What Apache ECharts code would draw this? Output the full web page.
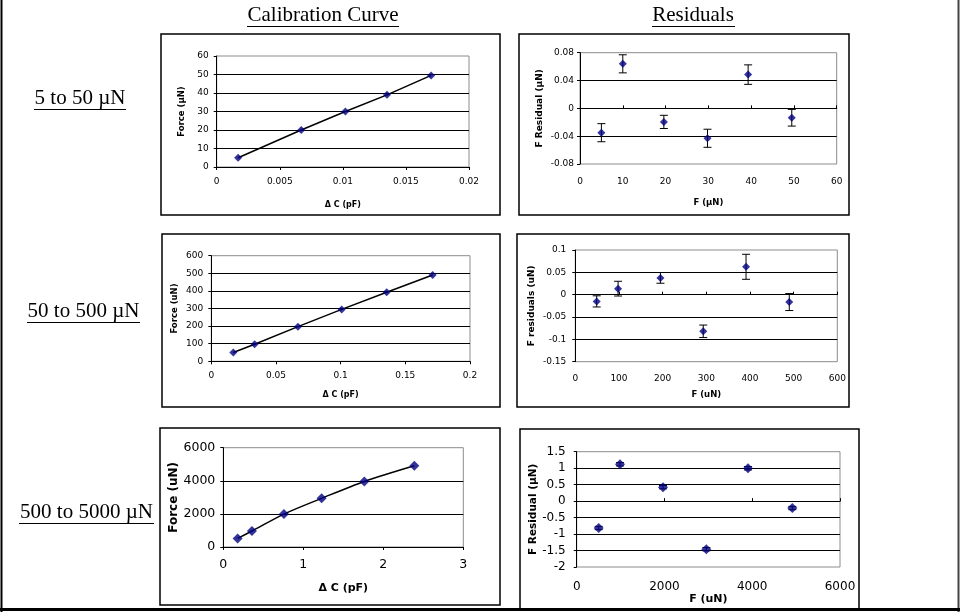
<!DOCTYPE html>
<html><head><meta charset="utf-8">
<script src="https://cdn.jsdelivr.net/npm/echarts@6/dist/echarts.min.js"></script>
<style>html,body{margin:0;padding:0;background:#fff}#c{width:960px;height:612px}</style>
</head><body><div id="c"></div>
<script>
// ---- data ----
const cal1X = [0.0017, 0.0067, 0.0102, 0.0135, 0.0170];
const cal1Y = [5, 20, 30, 39, 49.5];
const res1X = [5, 10, 19.6, 29.8, 39.3, 49.5];
const res1Y = [-0.035, 0.064, -0.0195, -0.043, 0.0485, -0.0135];
const res1E = [0.013, 0.013, 0.0095, 0.013, 0.014, 0.012];

const cal2X = [0.017, 0.0335, 0.067, 0.1008, 0.1356, 0.1711];
const cal2Y = [50, 97, 197, 295, 392, 490];
const res2X = [49, 98, 195, 293, 391, 490];
const res2Y = [-0.015, 0.0135, 0.0376, -0.082, 0.0624, -0.0165];
const res2E = [0.0125, 0.0165, 0.012, 0.014, 0.028, 0.019];

const cal3X = [0.179, 0.358, 0.758, 1.229, 1.7625, 2.3875];
const cal3Y = [520, 966, 1990, 2940, 3960, 4910];
const res3X = [501, 987, 1967, 2954, 3903, 4913];
const res3Y = [-0.816, 1.118, 0.423, -1.46, 0.997, -0.211];
const res3E = [0.05, 0.05, 0.05, 0.05, 0.05, 0.05];

const colHeaders = ['Calibration Curve', 'Residuals'];
const rowLabels = ['5 to 50 \u00b5N', '50 to 500 \u00b5N', '500 to 5000 \u00b5N'];

// ---- layout ----
const SANS = 'DejaVu Sans, Liberation Sans, sans-serif';
const SERIF = 'Liberation Serif, Times New Roman, serif';
const NAVY = '#000080';

const panels = [
  {grid:{left:216.7, top:56, width:252.3, height:111}, x:{min:0,max:0.02,interval:0.005,name:'\u0394 C (pF)',gap:34,m:10}, y:{min:0,max:60,interval:10,name:'Force (\u00b5N)',gap:30,m:8}, fs:9, xnfs:8, ynfs:8.5, xs:cal1X, ys:cal1Y, sym:8, smooth:false, res:false},
  {grid:{left:580, top:52.7, width:256.7, height:111.3}, x:{min:0,max:60,interval:10,name:'F (\u00b5N)',gap:34,m:13}, y:{min:-0.08,max:0.08,interval:0.04,name:'F Residual (\u00b5N)',gap:36,m:6}, fs:9, xnfs:8.5, ynfs:9, xs:res1X, ys:res1Y, es:res1E, sym:8, res:true},
  {grid:{left:211.3, top:255.7, width:258.7, height:105.6}, x:{min:0,max:0.2,interval:0.05,name:'\u0394 C (pF)',gap:30,m:10}, y:{min:0,max:600,interval:100,name:'Force (uN)',gap:32,m:8}, fs:9, xnfs:8, ynfs:8.5, xs:cal2X, ys:cal2Y, sym:8, smooth:false, res:false},
  {grid:{left:575.3, top:250, width:262, height:111.7}, x:{min:0,max:600,interval:100,name:'F (uN)',gap:29,m:12}, y:{min:-0.15,max:0.1,interval:0.05,name:'F residuals (uN)',gap:39,m:9}, fs:9, xnfs:8.5, ynfs:9, xs:res2X, ys:res2Y, es:res2E, sym:8, res:true},
  {grid:{left:223.3, top:447.7, width:240, height:99.3}, x:{min:0,max:3,interval:1,name:'\u0394 C (pF)',gap:36,m:11}, y:{min:0,max:6000,interval:2000,name:'Force (uN)',gap:43,m:8}, fs:12.5, xnfs:11, ynfs:12, xs:cal3X, ys:cal3Y, sym:10, smooth:0.3, res:false},
  {grid:{left:576.7, top:451.7, width:263.3, height:115.3}, x:{min:0,max:6000,interval:2000,name:'F (uN)',gap:26,m:14}, y:{min:-2,max:1.5,interval:0.5,name:'F Residual (\u00b5N)',gap:37,m:11}, fs:12, xnfs:11, ynfs:10.5, xs:res3X, ys:res3Y, es:res3E, sym:10, res:true}
];

const fmt = v => String(+v.toFixed(6));
const grids = [], xAxes = [], yAxes = [], series = [];
panels.forEach((p, i) => {
  grids.push(Object.assign({show:true, borderColor:'#8c8c8c', borderWidth:1, backgroundColor:'transparent', containLabel:false}, p.grid));
  const lblStyle = {fontFamily:SANS, fontSize:p.fs, color:'#000', formatter:fmt};
  const xi = xAxes.length;
  xAxes.push({
    type:'value', gridIndex:i, min:p.x.min, max:p.x.max, interval:p.x.interval,
    name:p.x.name, nameLocation:'middle', nameGap:p.x.gap,
    nameTextStyle:{fontFamily:SANS, fontSize:p.xnfs, fontWeight:'bold', color:'#000'},
    axisLine:{show:!p.res, onZero:false, lineStyle:{color:'#000', width:1}},
    axisTick:{show:!p.res, length:3, lineStyle:{color:'#000'}},
    axisLabel:Object.assign({margin:p.x.m}, lblStyle),
    splitLine:{show:false}
  });
  if (p.res) {
    xAxes.push({
      type:'value', gridIndex:i, min:p.x.min, max:p.x.max, interval:p.x.interval,
      axisLine:{show:true, onZero:true, lineStyle:{color:'#000', width:1}},
      axisTick:{show:true, length:3, lineStyle:{color:'#000'}},
      axisLabel:{show:false}, splitLine:{show:false}
    });
  }
  const yi = yAxes.length;
  yAxes.push({
    type:'value', gridIndex:i, min:p.y.min, max:p.y.max, interval:p.y.interval,
    name:p.y.name, nameLocation:'middle', nameGap:p.y.gap, nameRotate:90,
    nameTextStyle:{fontFamily:SANS, fontSize:p.ynfs, fontWeight:'bold', color:'#000'},
    axisLine:{show:true, onZero:false, lineStyle:{color:'#000', width:1}},
    axisTick:{show:true, length:3, lineStyle:{color:'#000'}},
    axisLabel:Object.assign({margin:p.y.m}, lblStyle),
    splitLine:{show:true, showMinLine:false, showMaxLine:false, lineStyle:{color:'#000', width:1}}
  });
  const pts = p.xs.map((x, k) => [x, p.ys[k]]);
  if (!p.res) {
    series.push({type:'line', xAxisIndex:xi, yAxisIndex:yi, data:pts, smooth:p.smooth, showSymbol:false, symbol:'none',
      lineStyle:{color:'#000', width:1.5}, z:2, silent:true});
  } else {
    const ed = p.xs.map((x, k) => [x, p.ys[k], p.es[k]]);
    series.push({type:'custom', xAxisIndex:xi, yAxisIndex:yi, data:ed, encode:{x:0, y:1}, z:2,
      renderItem:(params, api) => {
        const x = api.value(0), y = api.value(1), e = api.value(2);
        const t = api.coord([x, y + e]), b = api.coord([x, y - e]);
        const w = 4, st = {stroke:'#000', lineWidth:1};
        return {type:'group', children:[
          {type:'line', shape:{x1:t[0], y1:t[1], x2:b[0], y2:b[1]}, style:st},
          {type:'line', shape:{x1:t[0]-w, y1:t[1], x2:t[0]+w, y2:t[1]}, style:st},
          {type:'line', shape:{x1:b[0]-w, y1:b[1], x2:b[0]+w, y2:b[1]}, style:st}
        ]};
      }});
  }
  series.push({type:'scatter', xAxisIndex:xi, yAxisIndex:yi, data:pts, symbol:'diamond', symbolSize:p.sym,
    itemStyle:{color:NAVY}, z:3});
});

// frames & headings
const boxes = [
  [161, 34, 339, 181], [519, 34, 330, 181],
  [162, 234, 338, 173], [517, 234, 332, 173],
  [160, 428, 340, 177], [520, 429, 339, 181]
];
const graphics = [];
boxes.forEach(b => graphics.push({type:'rect', shape:{x:b[0], y:b[1], width:b[2], height:b[3]},
  style:{fill:'none', stroke:'#000', lineWidth:1.5}, z:0, silent:true}));
graphics.push({type:'line', shape:{x1:1.5, y1:0, x2:1.5, y2:612}, style:{stroke:'#000', lineWidth:2}});
graphics.push({type:'line', shape:{x1:958.5, y1:0, x2:958.5, y2:612}, style:{stroke:'#444', lineWidth:2}});
graphics.push({type:'line', shape:{x1:0, y1:609.5, x2:960, y2:609.5}, style:{stroke:'#000', lineWidth:3}});

function ulText(txt, cx, cy, fs, ul) {
  graphics.push({type:'text', x:cx, y:cy, style:{text:txt, font:fs + 'px ' + SERIF, fill:'#000', textAlign:'center', textVerticalAlign:'middle'}});
  graphics.push({type:'line', shape:{x1:ul[0], y1:ul[1], x2:ul[2], y2:ul[1]}, style:{stroke:'#000', lineWidth:1}});
}
ulText(colHeaders[0], 323, 15, 21, [247, 26.5, 399]);
ulText(colHeaders[1], 693, 15, 21, [652, 26.5, 735]);
ulText(rowLabels[0], 80, 98, 21, [34, 109.5, 126]);
ulText(rowLabels[1], 83.5, 311, 21, [27, 322.5, 140]);
ulText(rowLabels[2], 86.5, 512, 21, [19, 523.5, 154]);

const chart = echarts.init(document.getElementById('c'), null, {renderer:'canvas'});
chart.setOption({animation:false, backgroundColor:'#fff', grid:grids, xAxis:xAxes, yAxis:yAxes, series:series, graphic:graphics});
</script></body></html>
